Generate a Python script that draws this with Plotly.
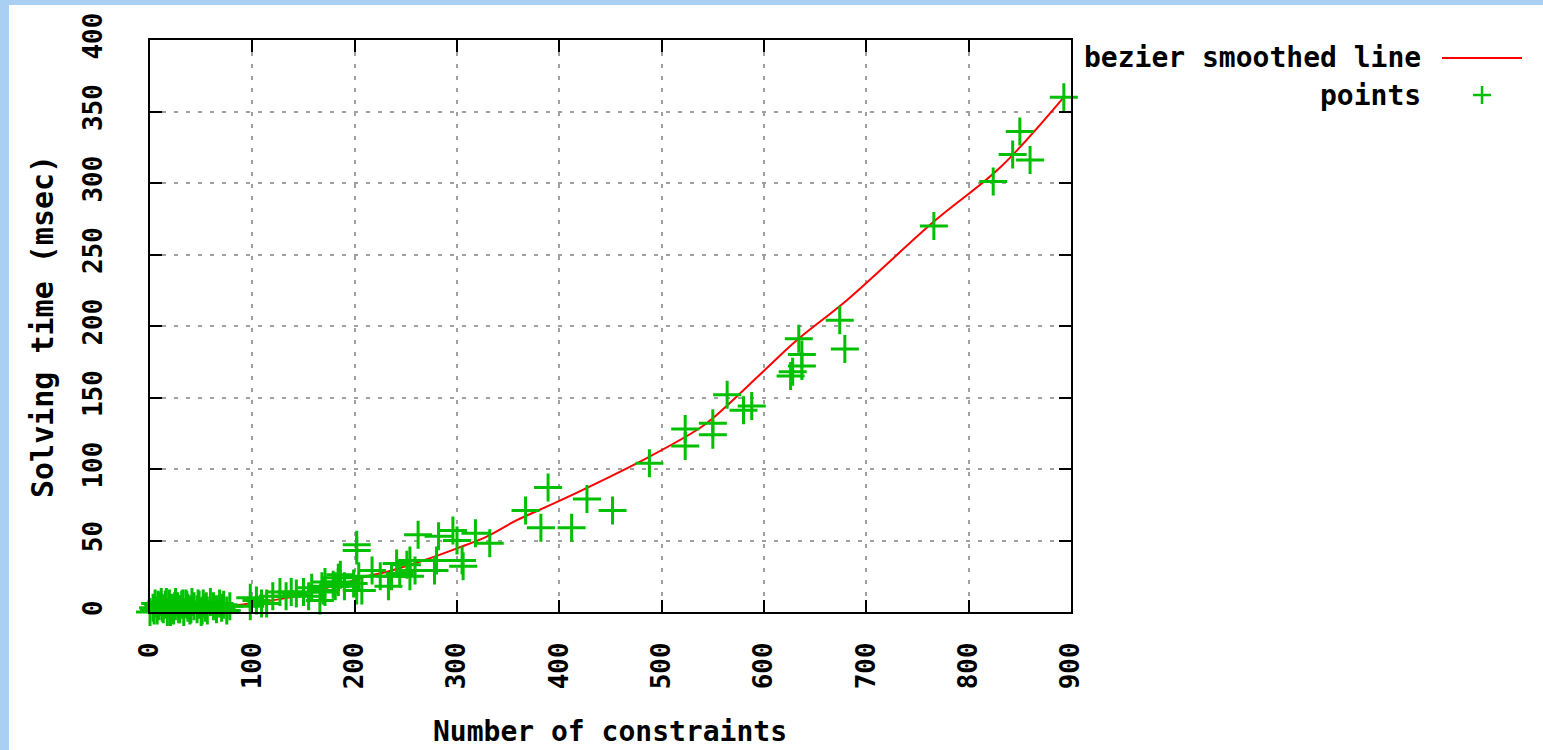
import plotly.graph_objects as go

# ---- data ----
pts_x = [0, 3, 5, 7, 9, 11, 13, 15, 17, 19, 21, 23, 25, 27, 29, 31, 33, 35, 37, 39,
         41, 43, 46, 48, 50, 52, 54, 56, 59, 62, 65, 68, 70, 72, 75, 78,
         4, 8, 12, 16, 20, 24, 28, 32, 36, 40, 47, 51, 55,
         98, 98, 104, 109, 114, 120, 127, 133, 138, 143, 150, 155, 158, 166, 168, 171, 179,
         184, 186, 204, 207,
         169, 171, 181, 184, 190, 199, 202, 202, 202, 217, 225, 233, 236, 241, 244, 251, 254,
         254, 259, 262, 278, 280, 282, 296, 300, 305, 306, 318, 332,
         367, 382, 389, 412, 427, 452, 488, 523, 523, 550, 550, 564, 580, 588,
         626, 628, 634, 637, 637, 674, 679, 766, 824, 843, 850, 860, 893]
pts_y = [0, 3, 6, 1, 4, 7, 2, 5, 0, 6, 3, 1, 7, 4, 2, 5, 0, 6, 3, 1,
         7, 4, 2, 5, 0, 6, 3, 1, 7, 4, 2, 6, 3, 5, 1, 4,
         1, 5, 3, 7, 0, 4, 2, 6, 5, 2, 6, 1, 4,
         4, 10, 8, 6, 6, 11, 14, 11, 14, 13, 14, 11, 17, 8, 18, 14, 19,
         24, 26, 25, 15,
         15, 21, 18, 21, 18, 20, 15, 47, 43, 29, 25, 18, 25, 34, 27, 33, 36,
         25, 29, 54, 29, 36, 53, 57, 50, 36, 32, 55, 48,
         71, 59, 87, 59, 79, 71, 104, 128, 116, 132, 124, 152, 141, 144,
         165, 168, 191, 180, 172, 204, 184, 270, 301, 320, 336, 316, 360]

bez_x = [0, 40, 88, 127, 153, 173, 192, 212, 231, 267, 300, 329, 358, 401, 485, 537,
         550, 599, 632, 681, 766, 831, 893]
bez_y = [0, 1, 5, 9, 13, 17, 20.5, 25, 28, 36, 44.5, 52.7, 64, 78, 107.5, 128.5,
         135.5, 168, 190, 218, 273, 311, 360]

x_ticks = [0, 100, 200, 300, 400, 500, 600, 700, 800, 900]
y_ticks = [0, 50, 100, 150, 200, 250, 300, 350, 400]

x_title = "Number of constraints"
y_title = "Solving time (msec)"
legend_names = ["bezier smoothed line", "points"]

RED = "#ff0000"
GREEN = "#00c000"
FONT = "DejaVu Sans Mono"

W, H = 1543, 750
L, R, T, B = 150, 472, 40, 138
PW, PH = W - L - R, H - T - B


def px(xp):
    return (xp - L) / PW


def py(yp):
    return (H - B - yp) / PH


fig = go.Figure()
fig.add_trace(go.Scatter(x=bez_x, y=bez_y, mode="lines", name=legend_names[0],
                         line=dict(color=RED, width=2), line_shape="spline",
                         showlegend=False))
fig.add_trace(go.Scatter(x=pts_x, y=pts_y, mode="markers", name=legend_names[1],
                         marker=dict(symbol="cross-thin", size=20,
                                     line=dict(color=GREEN, width=3)),
                         showlegend=False, cliponaxis=False))

axis_common = dict(
    showline=True, linecolor="black", linewidth=2, mirror="allticks",
    ticks="inside", ticklen=12, tickwidth=2, tickcolor="black",
    showgrid=True, gridcolor="#a0a0a0", gridwidth=2, griddash="4px,8px",
    zeroline=False,
    tickfont=dict(family=FONT, size=26, color="black", weight="bold"),
)

fig.update_xaxes(range=[0, 900], tickvals=x_ticks, ticktext=[str(v) for v in x_ticks],
                 tickangle=-90, ticklabelstandoff=18, **axis_common)
fig.update_yaxes(range=[0, 400], tickvals=y_ticks, ticktext=[str(v) for v in y_ticks],
                 tickangle=-90, ticklabelstandoff=36, **axis_common)

shapes = [
    # white page panel over blue background
    dict(type="rect", xref="paper", yref="paper", x0=px(9), x1=px(W + 5), y0=py(H + 5), y1=py(5),
         fillcolor="white", line=dict(width=0), layer="below"),
    # legend samples
    dict(type="line", xref="paper", yref="paper", x0=px(1442), x1=px(1522), y0=py(58), y1=py(58),
         line=dict(color=RED, width=2)),
    dict(type="line", xref="paper", yref="paper", x0=px(1473), x1=px(1491), y0=py(95), y1=py(95),
         line=dict(color=GREEN, width=2.5)),
    dict(type="line", xref="paper", yref="paper", x0=px(1482), x1=px(1482), y0=py(86), y1=py(104),
         line=dict(color=GREEN, width=2.5)),
]

title_font = dict(family=FONT, size=28, color="black", weight="bold")
annotations = [
    dict(text=legend_names[0], xref="paper", yref="paper", x=px(1423), y=py(58),
         xanchor="right", yanchor="middle", showarrow=False, font=title_font),
    dict(text=legend_names[1], xref="paper", yref="paper", x=px(1423), y=py(95),
         xanchor="right", yanchor="middle", showarrow=False, font=title_font),
    dict(text=x_title, xref="paper", yref="paper", x=px(610), y=py(731),
         xanchor="center", yanchor="middle", showarrow=False, font=title_font),
    dict(text=y_title, xref="paper", yref="paper", x=px(42), y=py(327),
         xanchor="center", yanchor="middle", textangle=-90, showarrow=False,
         font=dict(family=FONT, size=30, color="black", weight="bold")),
]

fig.update_layout(
    width=W, height=H,
    margin=dict(l=L, r=R, t=T, b=B, autoexpand=False),
    paper_bgcolor="#a9cff2",
    plot_bgcolor="white",
    shapes=shapes,
    annotations=annotations,
    showlegend=False,
)

fig.write_html("out.html")
